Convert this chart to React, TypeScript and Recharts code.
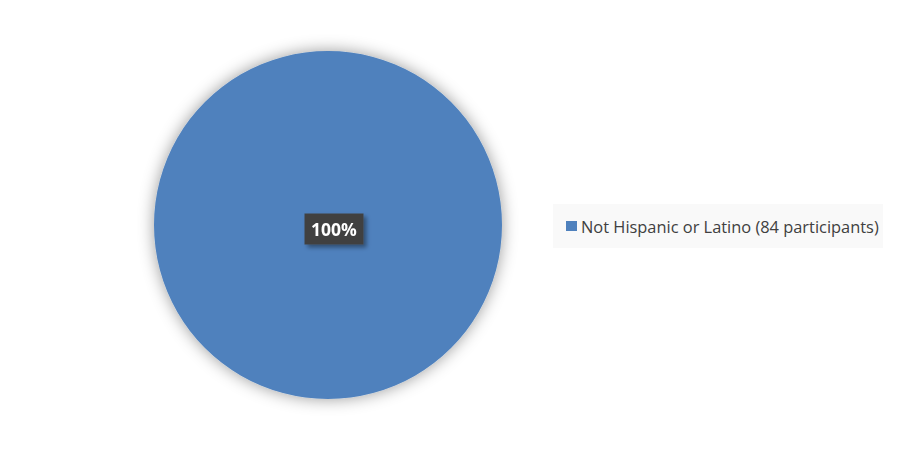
import { PieChart, Pie, Cell, Legend } from 'recharts';

const categories = ['Not Hispanic or Latino (84 participants)'];
const participants = [84];
const percentLabels = ['100%'];

const data = categories.map((name, i) => ({ name, value: participants[i], label: percentLabels[i] }));

const BLUE = '#4f81bd';

const CenterLabel = (props: any) => {
  const { cx, cy, index } = props;
  const w = 59;
  const h = 31;
  const x = cx + 6;
  const y = cy + 4;
  return (
    <g filter="url(#labelShadow)">
      <rect x={x - w / 2} y={y - h / 2} width={w} height={h} fill="#404040" />
      <text
        x={x}
        y={y}
        textAnchor="middle"
        dominantBaseline="central"
        fill="#ffffff"
        fontFamily="'Open Sans', sans-serif"
        fontWeight={700}
        fontSize={17.5}
      >
        {data[index].label}
      </text>
    </g>
  );
};

const LegendContent = ({ payload }: any) => (
  <div
    style={{
      width: 330,
      height: 44,
      background: '#f9f9f9',
      display: 'flex',
      alignItems: 'center',
      boxSizing: 'border-box',
      paddingLeft: 13,
    }}
  >
    {(payload || []).map((entry: any) => (
      <div key={entry.value} style={{ display: 'flex', alignItems: 'center' }}>
        <span style={{ width: 11, height: 10, background: BLUE, display: 'inline-block', marginRight: 4 }} />
        <span style={{ fontFamily: "'Open Sans', sans-serif", fontSize: 16.4, color: '#404040' }}>
          {entry.value}
        </span>
      </div>
    ))}
  </div>
);

export default function App() {
  return (
    <div style={{ position: 'absolute', left: 0, top: 0, width: 900, height: 450, background: '#ffffff' }}>
      <PieChart width={900} height={450} margin={{ top: 0, right: 0, bottom: 0, left: 0 }}>
        <defs>
          <filter id="pieShadow" x="-20%" y="-20%" width="140%" height="140%">
            <feDropShadow dx="0" dy="0" stdDeviation="8" floodColor="#000000" floodOpacity="0.4" />
          </filter>
          <filter id="labelShadow" x="-30%" y="-30%" width="160%" height="170%">
            <feDropShadow dx="3" dy="3" stdDeviation="2" floodColor="#000000" floodOpacity="0.4" />
          </filter>
        </defs>
        <Pie
          data={data}
          dataKey="value"
          nameKey="name"
          cx={328}
          cy={225}
          outerRadius={174}
          startAngle={90}
          endAngle={-270}
          stroke="none"
          label={CenterLabel}
          labelLine={false}
          isAnimationActive={false}
          style={{ filter: 'url(#pieShadow)' }}
        >
          {data.map((d) => (
            <Cell key={d.name} fill={BLUE} />
          ))}
        </Pie>
        <Legend
          content={<LegendContent />}
          wrapperStyle={{ position: 'absolute', left: 553, top: 204, width: 330, height: 44 }}
        />
      </PieChart>
    </div>
  );
}
